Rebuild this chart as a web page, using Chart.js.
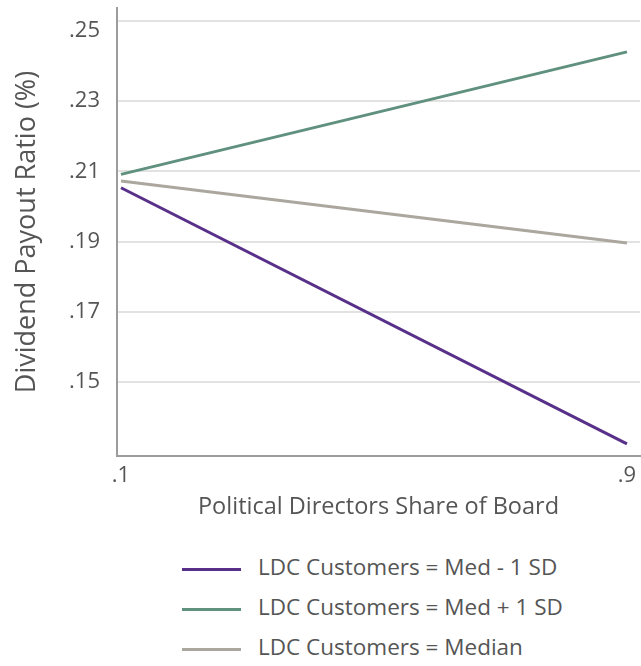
<!DOCTYPE html>
<html><head><meta charset="utf-8">
<script src="https://cdn.jsdelivr.net/npm/chart.js@4.4.0/dist/chart.umd.min.js"></script>
<style>
html,body{margin:0;padding:0;background:#fff;}
#wrap{position:relative;width:641px;height:666px;overflow:hidden;}
#box{position:absolute;left:0;top:0;width:641px;height:530px;}
#legend{position:absolute;left:182px;top:546px;font-family:'Open Sans',sans-serif;font-size:22.5px;color:#555;}
.item{height:40px;display:flex;align-items:center;white-space:nowrap;}
.sw{width:59px;height:3px;margin-right:17px;margin-top:6px;}
</style></head>
<body><div id="wrap"><div id="box"><canvas id="c"></canvas></div><div id="legend"></div></div>
<script>
const xValues = [0.1, 0.9];
const xTickValues = [0.1, 0.9];
const xTickLabels = ['.1', '.9'];
const yTickValues = [0.15, 0.17, 0.19, 0.21, 0.23, 0.25];
const yTickLabels = ['.15', '.17', '.19', '.21', '.23', '.25'];
const topLineValue = 0.2528;
const seriesNames = ['LDC Customers = Med - 1 SD', 'LDC Customers = Med + 1 SD', 'LDC Customers = Median'];
const medMinus1SD = [0.2053, 0.1324];
const medPlus1SD = [0.2091, 0.2440];
const median = [0.2072, 0.1896];
const seriesColors = ['#58308a', '#60917f', '#aba79f'];

const seriesValues = [medMinus1SD, medPlus1SD, median];
const datasets = seriesValues.map((vals, i) => ({
  label: seriesNames[i],
  data: vals.map((v, j) => ({x: xValues[j], y: v})),
  borderColor: seriesColors[i],
  backgroundColor: seriesColors[i],
  borderWidth: 3,
  pointRadius: 0,
  tension: 0,
  fill: false
}));

const txt = '#555';
new Chart(document.getElementById('c'), {
  type: 'line',
  data: {datasets},
  options: {
    responsive: true,
    maintainAspectRatio: false,
    animation: false,
    layout: {padding: {top: 8, right: 1, left: 0, bottom: 0}},
    plugins: {legend: {display: false}, tooltip: {enabled: false}},
    scales: {
      x: {
        type: 'linear',
        min: 0.0937, max: 0.9206,
        afterBuildTicks: s => { s.ticks = xTickValues.map(v => ({value: v})); },
        afterFit: s => { s.height = 74; s.paddingLeft = 0; s.paddingRight = 0; },
        grid: {display: false, drawTicks: false},
        border: {display: true, color: '#9c9c9c', width: 2},
        ticks: {
          autoSkip: false, maxRotation: 0, padding: 7,
          color: txt, font: {family: 'Open Sans', size: 22},
          callback: v => { const i = xTickValues.indexOf(v); return i >= 0 ? xTickLabels[i] : ''; }
        },
        title: {display: true, text: 'Political Directors Share of Board', color: txt,
          font: {family: 'Open Sans', size: 23.5}, padding: {top: 0, bottom: 9}}
      },
      y: {
        type: 'linear',
        min: 0.12893, max: 0.25648,
        afterBuildTicks: s => { s.ticks = yTickValues.concat([topLineValue]).map(v => ({value: v})); },
        afterFit: s => { s.width = 117; s.paddingTop = 0; s.paddingBottom = 0; },
        grid: {drawTicks: false, lineWidth: 2,
          color: ctx => (ctx.tick && ctx.tick.value === 0.25) ? 'rgba(0,0,0,0)' : '#e2e2e2'},
        border: {display: true, color: '#9c9c9c', width: 2},
        ticks: {
          autoSkip: false, padding: 17,
          color: txt, font: {family: 'Open Sans', size: 22},
          callback: v => { const i = yTickValues.indexOf(v); return i >= 0 ? yTickLabels[i] : ''; }
        },
        title: {display: true, text: 'Dividend Payout Ratio (%)', color: txt,
          font: {family: 'Open Sans', size: 27}, padding: {top: 11, bottom: 0}}
      }
    }
  }
});

const leg = document.getElementById('legend');
seriesNames.forEach((n, i) => {
  const it = document.createElement('div'); it.className = 'item';
  const sw = document.createElement('div'); sw.className = 'sw'; sw.style.background = seriesColors[i];
  const t = document.createElement('span'); t.textContent = n;
  it.appendChild(sw); it.appendChild(t); leg.appendChild(it);
});
</script>
</body></html>
